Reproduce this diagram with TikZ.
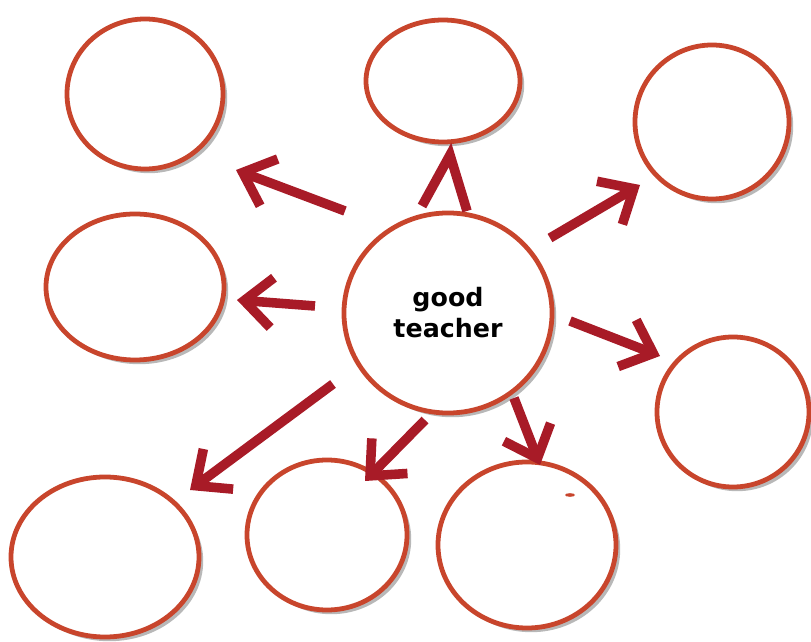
\documentclass[tikz,border=0pt]{standalone}
\usepackage{fontspec}
\newfontfamily\labelfont{DejaVu Sans}
\usetikzlibrary{arrows.meta,shapes.geometric,shadows}
\definecolor{ring}{HTML}{C8452C}
\definecolor{arrowred}{HTML}{A81B27}

\tikzset{
  bubble/.style={ellipse,draw=ring,line width=3.4pt,fill=white,inner sep=0pt,
    drop shadow={shadow xshift=3pt,shadow yshift=-3pt,fill=black,opacity=0.28}},
  pointer/.style={draw=arrowred,line width=6.8pt,
    -{Straight Barb[sharp,length=7mm,width=12.5mm]}}
}

\begin{document}
\begin{tikzpicture}[x=0.025cm,y=-0.025cm]
\useasboundingbox (0,0) rectangle (811,642);
% rings: name/x/y/rx/ry (pixels)
\foreach \n/\x/\y/\rx/\ry in {tl/145/94/78/75, tc/443/81/77/61, tr/712/122/77/77,
    ml/135/287/89/73, rr/733/412/76/75, bl/105/557/94/80, bm/327/535/80/75,
    br/527/545/89/83}{
  \node[bubble,minimum width=2*\rx*0.025cm,minimum height=2*\ry*0.025cm] (\n) at (\x,\y) {};
}
\node[bubble,minimum width=5.2cm,minimum height=5cm,align=center,
  font=\labelfont\bfseries\fontsize{18}{22}\selectfont] (hub) at (448,313) {good\\teacher};
\fill[ring] (570,495) ellipse (5 and 1.8);
% arrow ends
\foreach \n/\x/\y in {s1/345/211, e1/236/170, s3/550/238, e3/640/185,
    s4/315/306, e4/237/300, s5/570/321, e5/660/356, s6/333/384, e6/190/490,
    s7/425/420, e7/365/481, s8/514/398, e8/540/465,
    c1/422/206, c2/450/155, c3/467/211}
  \coordinate (\n) at (\x,\y);
\foreach \a/\b in {s1/e1,s3/e3,s4/e4,s5/e5,s6/e6,s7/e7,s8/e8}
  \draw[pointer] (\a) -- (\b);
\draw[arrowred,line width=6.8pt,line join=miter] (c1) -- (c2) -- (c3);
\end{tikzpicture}
\end{document}
